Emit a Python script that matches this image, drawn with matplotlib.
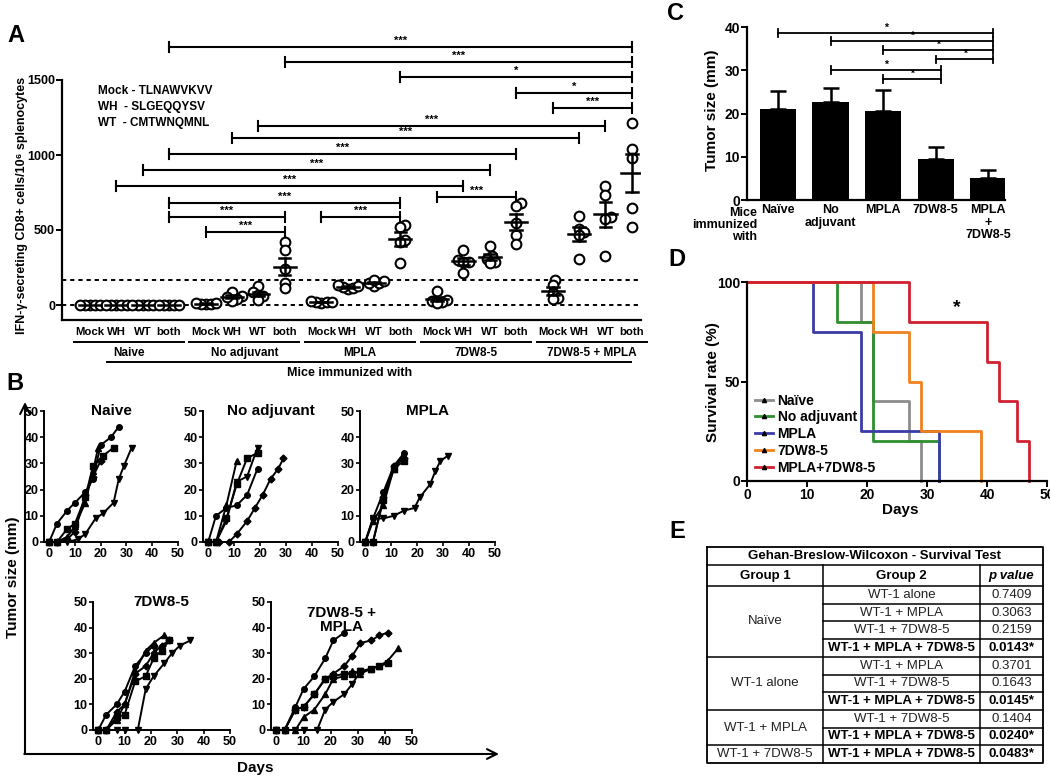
import numpy as np
import matplotlib
matplotlib.use('Agg')
import matplotlib.pyplot as plt
from matplotlib.transforms import blended_transform_factory
from matplotlib.lines import Line2D

plt.rcParams['font.family'] = ['Liberation Sans', 'DejaVu Sans']
plt.rcParams['font.weight'] = 'bold'
plt.rcParams['axes.labelweight'] = 'bold'
plt.rcParams['axes.linewidth'] = 1.6
plt.rcParams['xtick.major.width'] = 1.4
plt.rcParams['ytick.major.width'] = 1.4

# ---------------- data ----------------
# Panel A: IFN-gamma secreting CD8+ cells / 1e6 splenocytes
A_groups = ['Naive', 'No adjuvant', 'MPLA', '7DW8-5', '7DW8-5 + MPLA']
A_peptides = ['Mock', 'WH', 'WT', 'both']
A_naive = [[0, 0, 0, 0, 0], [0, 0, 0, 0, 0], [0, 0, 0, 0, 0], [0, 0, 0, 0, 0]]
A_noadj = [[5, 10, 15, 8, 12], [85, 60, 40, 30, 55], [125, 85, 70, 60, 35], [418, 367, 238, 149, 111]]
A_mpla = [[15, 18, 20, 22, 25], [105, 115, 120, 125, 135], [130, 145, 150, 160, 165], [533, 522, 433, 422, 282]]
A_dw = [[95, 35, 30, 20, 15], [367, 300, 290, 285, 215], [395, 325, 310, 285, 280], [680, 660, 545, 465, 410]]
A_combo = [[165, 135, 80, 50, 40], [595, 505, 490, 470, 305], [795, 735, 590, 575, 325], [1215, 1040, 980, 650, 520]]
A_threshold = 170
A_peptide_text = ['Mock - TLNAWVKVV', 'WH  - SLGEQQYSV', 'WT  - CMTWNQMNL']
# significance comparisons (index of condition 0..19)
A_sig_left = [3, 7, 11, 15, 16, 6, 5, 3, 2, 1, 12, 3, 3, 8, 4]
A_sig_right = [19, 19, 19, 19, 19, 18, 17, 15, 14, 13, 15, 11, 7, 11, 7]
A_sig_y = [1720, 1620, 1520, 1413, 1313, 1193, 1113, 1007, 900, 793, 718, 682, 587, 587, 487]
A_sig_lab = ['***', '***', '*', '*', '***', '***', '***', '***', '***', '***', '***', '***', '***', '***', '***']

# Panel B: tumor growth curves
B_markers = ['o', 's', '^', 'v', 'D']
B_naive_days = [[0, 3, 7, 10, 14, 17, 20, 24, 27], [0, 3, 7, 10, 14, 17, 21, 25], [0, 3, 7, 10, 14, 17, 19],
                [0, 7, 11, 14, 18, 21, 25, 27, 29, 32], [0, 3, 7, 10, 14, 17, 20]]
B_naive_size = [[0, 7, 12, 15, 19, 24, 37, 40, 44], [0, 0, 5, 7, 17, 29, 33, 36], [0, 0, 2, 6, 15, 27, 36],
                [0, 0, 1, 3, 9, 11, 15, 24, 29, 36], [0, 0, 1, 4, 18, 25, 31]]
B_noadj_days = [[0, 3, 7, 11, 15, 19], [0, 3, 7, 11, 15, 19], [0, 3, 7, 11],
                [0, 3, 7, 11, 15, 19], [0, 4, 8, 11, 15, 18, 21, 24, 27, 29]]
B_noadj_size = [[0, 10, 13, 14, 18, 28], [0, 0, 9, 22, 32, 34], [0, 0, 14, 31],
                [0, 0, 8, 23, 25, 36], [0, 0, 0, 3, 8, 13, 18, 24, 28, 32]]
B_mpla_days = [[0, 3, 7, 11, 15], [0, 3, 7, 11, 15], [0, 3, 7, 11, 15],
               [0, 3, 7, 11, 15, 19, 21, 25, 27, 29, 32], [0, 3, 7, 11, 15]]
B_mpla_size = [[0, 9, 19, 29, 34], [0, 0, 16, 28, 31], [0, 8, 14, 28, 33],
               [0, 9, 9, 10, 12, 13, 17, 22, 27, 31, 33], [0, 0, 17, 29, 32]]
B_dw_days = [[0, 3, 7, 10, 14, 18, 21], [0, 3, 7, 10, 14, 18, 21, 24, 27], [0, 3, 7, 10, 14, 18, 21, 25],
             [0, 7, 10, 15, 18, 21, 25, 28, 31, 35], [0, 3, 7, 10, 14, 18, 21, 24, 27]]
B_dw_size = [[0, 6, 10, 15, 25, 30, 33], [0, 0, 5, 6, 19, 21, 28, 31, 35], [0, 0, 4, 10, 23, 31, 34, 37],
             [0, 0, 0, 0, 16, 21, 26, 30, 33, 35], [0, 0, 7, 10, 22, 25, 30, 33, 35]]
B_combo_days = [[0, 3, 7, 10, 14, 18, 21, 25], [0, 3, 7, 10, 14, 18, 21, 25, 28, 31, 35, 38, 41],
                [0, 3, 7, 10, 14, 18, 21, 25, 28, 31, 35, 38, 41, 45], [0, 7, 10, 15, 18, 21, 25, 28, 31],
                [0, 3, 7, 10, 14, 18, 21, 25, 28, 31, 35, 38, 41]]
B_combo_size = [[0, 0, 9, 16, 21, 28, 35, 38], [0, 0, 8, 9, 14, 20, 21, 22, 22, 23, 24, 25, 26],
                [0, 0, 0, 5, 8, 14, 20, 21, 23, 22, 24, 25, 27, 32], [0, 0, 0, 0, 8, 11, 14, 18, 23],
                [0, 0, 8, 9, 14, 20, 22, 25, 29, 34, 35, 37, 38]]

# Panel C: tumor size bars
C_groups = ['Naïve', 'No\nadjuvant', 'MPLA', '7DW8-5', 'MPLA\n+\n7DW8-5']
C_mean = [21.0, 22.6, 20.6, 9.5, 5.0]
C_sem = [4.2, 3.2, 4.8, 2.8, 1.9]
C_sig_left = [0, 1, 2, 3, 1, 2]
C_sig_right = [4, 4, 4, 4, 3, 3]
C_sig_y = [38.6, 36.8, 34.7, 32.5, 30.0, 27.9]

# Panel D: survival
D_labels = ['Naïve', 'No adjuvant', 'MPLA', '7DW8-5', 'MPLA+7DW8-5']
D_colors = ['#8c8c8c', '#2f8f2f', '#3b3ba8', '#f0821e', '#d02030']
D_days = [[0, 19, 21, 27, 29], [0, 15, 21, 32], [0, 11, 19, 32], [0, 21, 27, 29, 39], [0, 27, 40, 42, 45, 47]]
D_surv = [[100, 80, 40, 20, 0], [100, 80, 20, 0], [100, 75, 25, 0], [100, 75, 50, 25, 0], [100, 80, 60, 40, 20, 0]]

# Panel E: table
E_group1 = ['Naïve', 'WT-1 alone', 'WT-1 + MPLA', 'WT-1 + 7DW8-5']
E_group1_rows = [4, 3, 2, 1]
E_group2 = ['WT-1 alone', 'WT-1 + MPLA', 'WT-1 + 7DW8-5', 'WT-1 + MPLA + 7DW8-5',
            'WT-1 + MPLA', 'WT-1 + 7DW8-5', 'WT-1 + MPLA + 7DW8-5',
            'WT-1 + 7DW8-5', 'WT-1 + MPLA + 7DW8-5', 'WT-1 + MPLA + 7DW8-5']
E_pvalue = ['0.7409', '0.3063', '0.2159', '0.0143*', '0.3701', '0.1643', '0.0145*', '0.1404', '0.0240*', '0.0483*']

# ---------------- figure ----------------
W, H = 1050, 779
fig = plt.figure(figsize=(W / 100, H / 100), dpi=100)


def rect(l, t, r, b):
    return [l / W, 1 - b / H, (r - l) / W, (b - t) / H]


def ftext(x, y, s, **kw):
    kw.setdefault('ha', 'center')
    kw.setdefault('va', 'center')
    fig.text(x / W, 1 - y / H, s, **kw)


# overlay axes in pixel coordinates for decorations
ov = fig.add_axes([0, 0, 1, 1])
ov.set_xlim(0, W)
ov.set_ylim(H, 0)
ov.axis('off')

# panel letters
for lab, (x, y) in zip('ABCDE', [(16, 35), (15, 383), (676, 13), (677, 260), (677, 532)]):
    ftext(x, y, lab, fontsize=17)

# ================= Panel A =================
axA = fig.add_axes(rect(62, 41, 641, 320))
axA.set_xlim(-1.065, 20.95)
axA.set_ylim(-100, 1760)
for s in ['top', 'right']:
    axA.spines[s].set_visible(False)
axA.spines['left'].set_bounds(-100, 1500)
axA.set_yticks([0, 500, 1000, 1500])
axA.tick_params(axis='y', labelsize=9, length=4, direction='out', pad=1)
GAP = 4.4
A_all = [A_naive, A_noadj, A_mpla, A_dw, A_combo]
positions = []
labels = []
px_per_x = 26.3
px_per_y = 0.15
diam = 8.5
for g, grp in enumerate(A_all):
    for i, vals in enumerate(grp):
        pos = g * GAP + i
        positions.append(pos)
        labels.append(A_peptides[i])
        vals = np.array(vals, dtype=float)
        # simple swarm layout
        xs = np.zeros(len(vals))
        placed = []
        for idx in np.argsort(vals):
            yp = vals[idx] * px_per_y
            k = 0
            while True:
                off = ((k + 1) // 2) * (1 if k % 2 else -1) * 0.3 * diam
                if all(np.hypot(off - ox, yp - oy) >= 0.55 * diam for ox, oy in placed):
                    break
                k += 1
            placed.append((off, yp))
            xs[idx] = pos + off / px_per_x
        axA.plot(xs, vals, 'o', mfc='white', mec='black', ms=7, mew=1.5, zorder=3, clip_on=False)
        m = vals.mean()
        sem = vals.std(ddof=1) / np.sqrt(len(vals))
        axA.plot([pos - 0.42, pos + 0.42], [m, m], color='black', lw=1.8, zorder=4)
        if sem > 0:
            axA.plot([pos, pos], [m - sem, m + sem], color='black', lw=1.8, zorder=4)
            for yy in (m - sem, m + sem):
                axA.plot([pos - 0.22, pos + 0.22], [yy, yy], color='black', lw=1.8, zorder=4)
axA.set_xticks(positions)
axA.set_xticklabels(labels, fontsize=8.2)
axA.tick_params(axis='x', length=0, pad=5)
axA.axhline(0, color='black', lw=1.4, ls=(0, (2.2, 2)), zorder=1)
axA.axhline(A_threshold, color='black', lw=1.4, ls=(0, (2.2, 2)), zorder=1)
# peptide legend text
for j, t in enumerate(A_peptide_text):
    ftext(98, 91 + 16 * j, t, ha='left', fontsize=8.5)
# significance bars
tick_h = 33
for l, r, y, lab in zip(A_sig_left, A_sig_right, A_sig_y, A_sig_lab):
    xl = (l // 4) * GAP + l % 4
    xr = (r // 4) * GAP + r % 4
    axA.plot([xl, xr], [y, y], color='black', lw=1.5, clip_on=False)
    axA.plot([xl, xl], [y - tick_h, y + tick_h], color='black', lw=1.5, clip_on=False)
    axA.plot([xr, xr], [y - tick_h, y + tick_h], color='black', lw=1.5, clip_on=False)
    axA.text((xl + xr) / 2, y + 8, lab, ha='center', va='bottom', fontsize=8)
# group underline + labels
trA = blended_transform_factory(axA.transData, fig.transFigure)
for g, name in enumerate(A_groups):
    x0 = g * GAP - 0.62
    x1 = g * GAP + 3.56
    axA.plot([x0, x1], [1 - 342 / H] * 2, color='black', lw=1.4, transform=trA, clip_on=False)
    axA.text((x0 + x1) / 2, 1 - 353 / H, name, transform=trA, ha='center', va='center', fontsize=8.5)
axA.plot([0.65, 4 * GAP + 3 - 0.03], [1 - 362 / H] * 2, color='black', lw=1.4, transform=trA, clip_on=False)
ftext(350, 373, 'Mice immunized with', fontsize=9)
ftext(22, 205, 'IFN-γ-secreting CD8+ cells/10⁶ splenocytes', rotation=90, fontsize=9)

# ================= Panel B =================
ov.annotate('', xy=(25, 402), xytext=(25, 754),
            arrowprops=dict(arrowstyle='->,head_length=0.7,head_width=0.35', lw=1.5, color='black',
                            shrinkA=0, shrinkB=0))
ov.annotate('', xy=(499, 754), xytext=(24.3, 754),
            arrowprops=dict(arrowstyle='->,head_length=0.7,head_width=0.35', lw=1.5, color='black',
                            shrinkA=0, shrinkB=0))
ftext(13, 577, 'Tumor size (mm)', rotation=90, fontsize=11)
ftext(255, 768, 'Days', fontsize=11)

B_panels = [
    ((44, 411, 178, 542), 'Naive', B_naive_days, B_naive_size),
    ((203, 411, 338, 542), 'No adjuvant', B_noadj_days, B_noadj_size),
    ((360, 411, 495, 542), 'MPLA', B_mpla_days, B_mpla_size),
    ((93, 602, 230, 730), '7DW8-5', B_dw_days, B_dw_size),
    ((271, 602, 412, 730), '7DW8-5 +\nMPLA', B_combo_days, B_combo_size),
]
for (l, t, r, b), title, days, sizes in B_panels:
    ax = fig.add_axes(rect(l, t, r, b))
    ax.set_xlim(-2, 50)
    ax.set_ylim(0, 50)
    for s in ['top', 'right']:
        ax.spines[s].set_visible(False)
    ax.spines['left'].set_linewidth(1.4)
    ax.spines['bottom'].set_linewidth(1.4)
    ax.set_xticks(range(0, 51, 10))
    ax.set_yticks(range(0, 51, 10))
    ax.tick_params(labelsize=9, length=3, width=1.2, pad=1)
    for mk, d, v in zip(B_markers, days, sizes):
        ax.plot(d, v, '-', color='black', lw=1.4, marker=mk, ms=4 if mk != 'D' else 3.5,
                mfc='black', mec='black', clip_on=False)
    if '\n' in title:
        ax.text(0.5, 0.97, title, transform=ax.transAxes, ha='center', va='top', fontsize=11, linespacing=1.0)
    else:
        ax.text(0.5, 1.0, title, transform=ax.transAxes, ha='center', va='center', fontsize=11)

# ================= Panel C =================
axC = fig.add_axes(rect(747, 22.7, 1005, 200))
axC.set_xlim(-0.59, 4.32)
axC.set_ylim(0, 41)
for s in ['top', 'right']:
    axC.spines[s].set_visible(False)
axC.spines['left'].set_bounds(0, 40)
xc = np.arange(len(C_mean))
axC.bar(xc, C_mean, width=0.69, color='black', zorder=2)
axC.errorbar(xc, C_mean, yerr=[np.zeros(len(C_sem)), C_sem], fmt='none', ecolor='black',
             elinewidth=1.8, capsize=5.5, capthick=1.8, zorder=1)
axC.set_yticks([0, 10, 20, 30, 40])
axC.set_xticks(xc)
axC.set_xticklabels(C_groups, fontsize=9, linespacing=1.05)
axC.tick_params(axis='x', length=0, pad=3)
axC.tick_params(axis='y', labelsize=10, length=4, pad=1)
for l, r, y in zip(C_sig_left, C_sig_right, C_sig_y):
    xr = r + 0.1
    axC.plot([l, xr], [y, y], color='black', lw=1.3, clip_on=False)
    axC.plot([l, l], [y - 0.9, y + 0.9], color='black', lw=1.3, clip_on=False)
    axC.plot([xr, xr], [y - 0.9, y + 0.9], color='black', lw=1.3, clip_on=False)
    axC.text((l + xr) / 2, y + 0.1, '*', ha='center', va='bottom', fontsize=7.5)
ftext(757, 206.5, 'Mice\nimmunized\nwith', ha='right', va='top', fontsize=9, linespacing=1.0,
      multialignment='right')
ftext(712, 110, 'Tumor size (mm)', rotation=90, fontsize=11)

# ================= Panel D =================
axD = fig.add_axes(rect(747, 282, 1047, 481))
axD.set_xlim(0, 50)
axD.set_ylim(0, 100)
for s in ['top', 'right']:
    axD.spines[s].set_visible(False)
handles = []
for lab, col, d, sv in zip(D_labels, D_colors, D_days, D_surv):
    axD.step(d, sv, where='post', color=col, lw=2.0, clip_on=False)
    handles.append(Line2D([0], [0], color=col, lw=2.0, marker='^', ms=3, mfc='black', mec='black'))
axD.set_xticks(range(0, 51, 10))
axD.set_yticks([0, 50, 100])
axD.tick_params(labelsize=10, length=4, pad=1)
leg = axD.legend(handles, D_labels, loc='lower left', bbox_to_anchor=(0.0, -0.01), frameon=False,
                 fontsize=10, handlelength=1.3, handletextpad=0.3, labelspacing=0.2, borderaxespad=0.2)
axD.text(35, 87, '*', ha='center', va='center', fontsize=14)
ftext(713, 382, 'Survival rate (%)', rotation=90, fontsize=11)
ftext(900, 510, 'Days', fontsize=11)

# ================= Panel E =================
tl, tr_, tt, tb = 707, 1043, 547, 763
c1, c2 = 823, 980
row0 = 586
rh = (tb - row0) / len(E_pvalue)
lwT = 1.1
ov.plot([tl, tr_, tr_, tl, tl], [tt, tt, tb, tb, tt], color='black', lw=1.3)
ov.plot([tl, tr_], [565, 565], color='black', lw=lwT)
ov.plot([tl, tr_], [row0, row0], color='black', lw=lwT)
ov.plot([c1, c1], [565, tb], color='black', lw=lwT)
ov.plot([c2, c2], [565, tb], color='black', lw=lwT)
bounds = np.cumsum(E_group1_rows)[:-1]
for r in range(1, len(E_pvalue)):
    y = row0 + r * rh
    x0 = tl if r in bounds else c1
    ov.plot([x0, tr_], [y, y], color='black', lw=lwT)
ov.text((tl + tr_) / 2, 556, 'Gehan-Breslow-Wilcoxon - Survival Test', ha='center', va='center', fontsize=9.5)
ov.text((tl + c1) / 2, 576, 'Group 1', ha='center', va='center', fontsize=9.5)
ov.text((c1 + c2) / 2, 576, 'Group 2', ha='center', va='center', fontsize=9.5)
ov.text((c2 + tr_) / 2, 576, 'p value', ha='center', va='center', fontsize=9.5, style='italic')
start = 0
for name, n in zip(E_group1, E_group1_rows):
    yc = row0 + (start + n / 2) * rh
    ov.text((tl + c1) / 2, yc, name, ha='center', va='center', fontsize=9.5, fontweight='normal', color='#222222')
    start += n
for r, (g2, pv) in enumerate(zip(E_group2, E_pvalue)):
    yc = row0 + (r + 0.5) * rh
    sig = pv.endswith('*')
    wt = 'bold' if sig else 'normal'
    col = 'black' if sig else '#222222'
    ov.text((c1 + c2) / 2, yc, g2, ha='center', va='center', fontsize=9.5, fontweight=wt, color=col)
    ov.text((c2 + tr_) / 2, yc, pv, ha='center', va='center', fontsize=9.5, fontweight=wt, color=col)

fig.savefig('out.png', dpi=100)
